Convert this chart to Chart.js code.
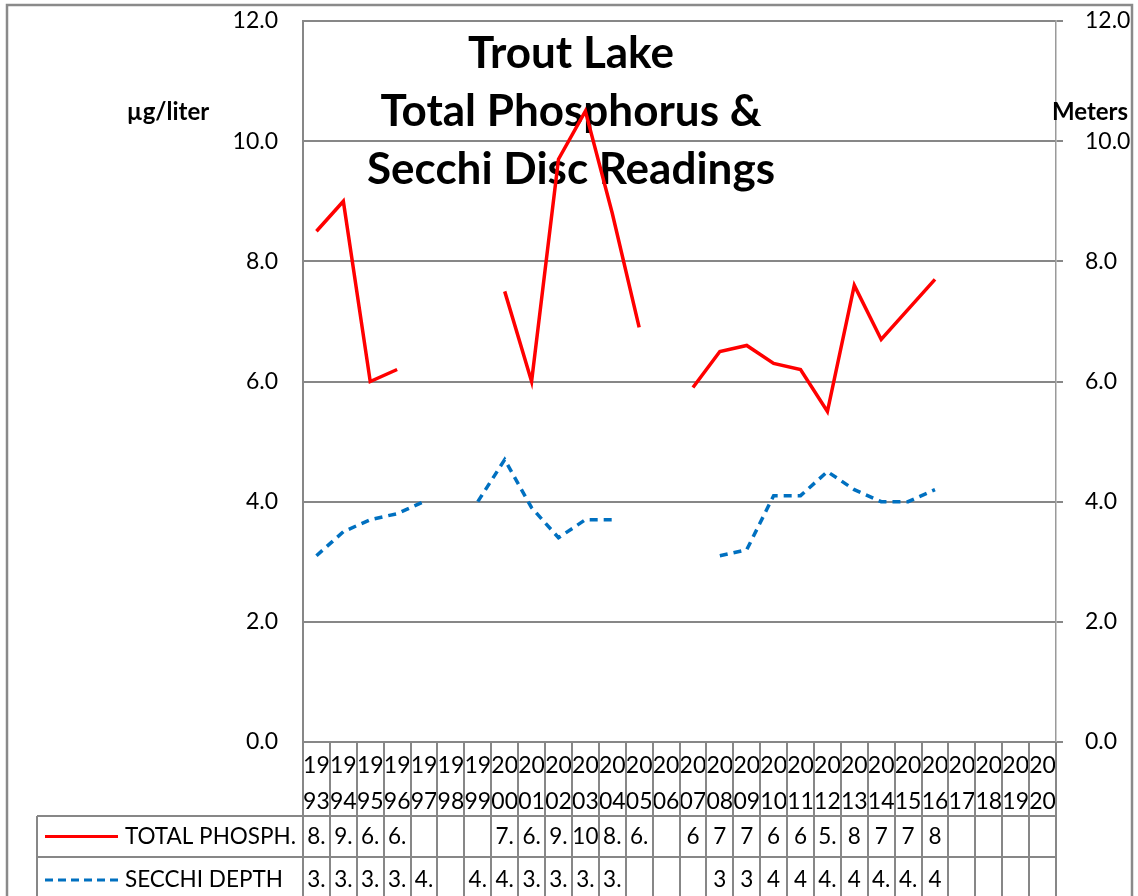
<!DOCTYPE html>
<html>
<head>
<meta charset="utf-8">
<script src="https://cdn.jsdelivr.net/npm/chart.js@4.4.1/dist/chart.umd.min.js"></script>
<style>
html,body{margin:0;padding:0;background:#fff;}
#wrap{width:1138px;height:896px;position:relative;}
</style>
</head>
<body>
<div id="wrap"><canvas id="c" width="1138" height="896"></canvas></div>
<script>
// ---- data ----
const categories = ["1993","1994","1995","1996","1997","1998","1999","2000","2001","2002","2003","2004","2005","2006","2007","2008","2009","2010","2011","2012","2013","2014","2015","2016","2017","2018","2019","2020"];
const totalPhosphorus = [8.5,9.0,6.0,6.2,null,null,null,7.5,6.0,9.7,10.5,8.8,6.9,null,5.9,6.5,6.6,6.3,6.2,5.5,7.6,6.7,7.2,7.7,null,null,null,null];
const secchiDepth = [3.1,3.5,3.7,3.8,4.0,null,4.0,4.7,3.9,3.4,3.7,3.7,null,null,null,3.1,3.2,4.1,4.1,4.5,4.2,4.0,4.0,4.2,null,null,null,null];
// data-table cell texts as shown (clipped in the original)
const phosTableText = ["8.","9.","6.","6.","","","","7.","6.","9.","10","8.","6.","","6","7","7","6","6","5.","8","7","7","8","","","",""];
const secchiTableText = ["3.","3.","3.","3.","4.","","4.","4.","3.","3.","3.","3.","","","","3","3","4","4","4.","4","4.","4.","4","","","",""];
const titleLines = ["Trout Lake","Total Phosphorus &","Secchi Disc Readings"];
const seriesNames = ["TOTAL PHOSPH.","SECCHI DEPTH"];
const leftUnit = "µg/liter";
const rightUnit = "Meters";

const FONT = 'Lato, "Open Sans", sans-serif';
const GRID = '#878787';
const RED = '#FF0000';
const BLUE = '#0070C0';

const overlay = {
  id: 'overlay',
  beforeDraw(chart) {
    const c = chart.ctx;
    c.save();
    c.fillStyle = '#fff';
    c.fillRect(0, 0, chart.width, chart.height);
    c.restore();
  },
  beforeDatasetsDraw(chart) {
    const c = chart.ctx;
    c.save();
    c.fillStyle = '#000';
    c.font = 'bold 44px ' + FONT;
    c.textAlign = 'center';
    c.textBaseline = 'middle';
    const ys = [54, 112, 170];
    titleLines.forEach((t, i) => c.fillText(t, 571, ys[i]));
    c.restore();
  },
  afterDraw(chart) {
    const c = chart.ctx;
    const x = chart.scales.x;
    const area = chart.chartArea;
    c.save();
    // outer border
    c.strokeStyle = '#8a8a8a';
    c.lineWidth = 2.5;
    c.strokeRect(7, 5, 1125, 1000);

    // units
    c.fillStyle = '#000';
    c.font = 'bold 24px ' + FONT;
    c.textBaseline = 'middle';
    c.textAlign = 'center';
    c.fillText(leftUnit, 168, 112);
    c.textAlign = 'right';
    c.fillText(rightUnit, 1128, 112);

    // data table grid
    const n = categories.length;
    const half = (x.getPixelForValue(1) - x.getPixelForValue(0)) / 2;
    const row1Top = 816, row2Top = 857, bottom = 900;
    const tableLeft = 37;
    c.strokeStyle = GRID;
    c.lineWidth = 2;
    c.beginPath();
    for (let i = 0; i <= n; i++) {
      const px = Math.round(x.getPixelForValue(0) - half + i * 2 * half);
      c.moveTo(px, area.bottom);
      c.lineTo(px, bottom);
    }
    c.moveTo(tableLeft, row1Top); c.lineTo(area.right, row1Top);
    c.moveTo(tableLeft, row2Top); c.lineTo(area.right, row2Top);
    c.moveTo(tableLeft, row1Top); c.lineTo(tableLeft, bottom);
    c.stroke();

    // legend keys
    const r1 = (row1Top + row2Top) / 2;
    const r2 = row2Top + 23;
    c.lineWidth = 3;
    c.strokeStyle = RED;
    c.setLineDash([]);
    c.beginPath(); c.moveTo(45, r1); c.lineTo(118, r1); c.stroke();
    c.strokeStyle = BLUE;
    c.setLineDash([8, 5]);
    c.beginPath(); c.moveTo(45, r2); c.lineTo(118, r2); c.stroke();
    c.setLineDash([]);

    c.fillStyle = '#000';
    c.font = '22.5px ' + FONT;
    c.textAlign = 'left';
    c.fillText(seriesNames[0], 125, r1);
    c.fillText(seriesNames[1], 125, r2);

    // cell values
    c.textAlign = 'center';
    for (let i = 0; i < n; i++) {
      const cx = x.getPixelForValue(i);
      if (phosTableText[i]) c.fillText(phosTableText[i], cx, r1);
      if (secchiTableText[i]) c.fillText(secchiTableText[i], cx, r2);
    }
    c.restore();
  }
};

function fixV(w) {
  return s => { s.width = w; s.paddingTop = 0; s.paddingBottom = 0; };
}

new Chart(document.getElementById('c'), {
  type: 'line',
  data: {
    labels: categories,
    datasets: [
      { label: seriesNames[0], data: totalPhosphorus, borderColor: RED, borderWidth: 3.5,
        pointRadius: 0, tension: 0, yAxisID: 'y', spanGaps: false },
      { label: seriesNames[1], data: secchiDepth, borderColor: BLUE, borderWidth: 3.5,
        borderDash: [8, 6], pointRadius: 0, tension: 0, yAxisID: 'y1', spanGaps: false }
    ]
  },
  options: {
    responsive: false,
    animation: false,
    devicePixelRatio: 1,
    layout: { padding: { top: 21, left: 0, right: 0, bottom: 0 } },
    plugins: { legend: { display: false }, title: { display: false }, tooltip: { enabled: false } },
    scales: {
      x: {
        offset: true,
        grid: { display: false, offset: true },
        border: { display: false },
        ticks: {
          autoSkip: false, maxRotation: 0, minRotation: 0, padding: -2,
          color: '#000',
          font: { family: FONT, size: 23, lineHeight: 1.55 },
          callback: (v, i) => [categories[i].slice(0, 2), categories[i].slice(2)]
        },
        afterFit: s => { s.height = 154; s.paddingLeft = 0; s.paddingRight = 0; }
      },
      y: {
        position: 'left', min: 0, max: 12,
        grid: { color: GRID, lineWidth: 2, drawTicks: false },
        border: { display: true, color: GRID, width: 2 },
        ticks: { stepSize: 2, padding: 25, color: '#000',
          font: { family: FONT, size: 23 },
          callback: v => Number(v).toFixed(1) },
        afterFit: fixV(303)
      },
      y1: {
        position: 'right', min: 0, max: 12,
        grid: { drawOnChartArea: false, drawTicks: true, tickLength: 7, color: GRID, lineWidth: 2 },
        border: { display: true, color: '#9a9a9a', width: 1.5, dash: [5, 3] },
        ticks: { stepSize: 2, padding: 22, color: '#000',
          font: { family: FONT, size: 23 },
          callback: v => Number(v).toFixed(1) },
        afterFit: fixV(82)
      }
    }
  },
  plugins: [overlay]
});
</script>
</body>
</html>
